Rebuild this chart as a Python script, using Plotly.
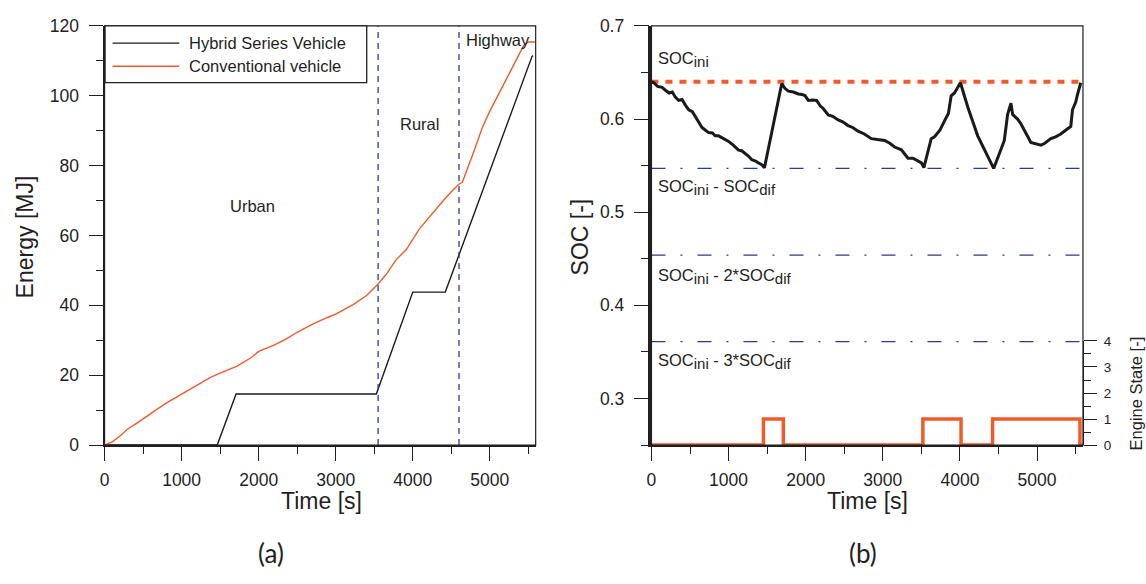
import plotly.graph_objects as go

# ---- data -------------------------------------------------------------
# (a) cumulative energy use over the drive cycle
conv_t = [0, 100, 200, 258, 300, 400, 500, 600, 645, 731, 800, 900, 1000, 1200, 1376, 1500,
          1720, 1900, 2000, 2200, 2365, 2500, 2700, 2900, 3000, 3226, 3400, 3553, 3656, 3785,
          3914, 4086, 4237, 4400, 4516, 4594, 4645, 4710, 4800, 4903, 5000, 5118, 5200, 5290,
          5441, 5500, 5590]
conv_energy = [0, 0.9, 2.6, 3.7, 4.6, 6.0, 7.4, 9.0, 9.7, 11.1, 12.0, 13.3, 14.6, 17.2, 19.4,
               20.6, 22.6, 25.0, 26.8, 28.6, 30.5, 32.3, 34.6, 36.6, 37.5, 40.2, 42.8, 46.2,
               48.9, 53.1, 55.9, 61.9, 66.0, 70.1, 72.9, 74.6, 75.3, 79.4, 84.5, 90.9, 95.6,
               100.6, 104.0, 108.0, 114.5, 115.4, 115.4]
hyb_t = [0, 1462, 1707, 3527, 4000, 4422, 5548, 5560]
hyb_energy = [0, 0, 14.6, 14.6, 43.8, 43.8, 111.3, 111.5]
phase_bounds = [3550, 4600]
phase_names = ["Urban", "Rural", "Highway"]
phase_label_t = [1923, 4086, 5107]
phase_label_e = [68.4, 91.9, 115.9]
series_names = ["Hybrid Series Vehicle", "Conventional vehicle"]

# (b) battery state of charge and engine on/off state
soc_t = [0, 31, 80, 138, 181, 230, 270, 310, 353, 397, 440, 483, 530, 569, 610, 655, 700, 741,
         790, 827, 870, 913, 960, 1000, 1060, 1129, 1170, 1215, 1260, 1301, 1350, 1388, 1430,
         1465,
         1689, 1730, 1775, 1840, 1904, 1950, 1990, 2034, 2090, 2141, 2190, 2227, 2292, 2350,
         2421, 2480, 2549, 2610, 2678, 2760, 2851, 2930, 3024, 3090, 3153, 3240, 3326, 3390,
         3455, 3500, 3532,
         3627, 3670, 3740, 3800, 3850, 3886, 3929, 4006, 4101, 4230, 4437, 4520, 4575, 4618,
         4640, 4661, 4683, 4747, 4790, 4833, 4880, 4919, 4960, 5006, 5049, 5100, 5178, 5240,
         5307, 5370, 5437, 5459, 5500, 5523, 5566]
soc = [0.640, 0.639, 0.635, 0.634, 0.631, 0.628, 0.629, 0.6235, 0.620, 0.621, 0.615, 0.610,
       0.608, 0.603, 0.598, 0.591, 0.588, 0.5855, 0.585, 0.582, 0.582, 0.580, 0.578, 0.576,
       0.572, 0.5666, 0.566, 0.5632, 0.560, 0.5563, 0.555, 0.5528, 0.551, 0.5477,
       0.638, 0.633, 0.630, 0.629, 0.627, 0.6265, 0.6252, 0.620, 0.6205, 0.620, 0.614,
       0.6114, 0.6045, 0.603, 0.599, 0.597, 0.593, 0.591, 0.587, 0.584, 0.579, 0.578, 0.577,
       0.574, 0.570, 0.567, 0.558, 0.558, 0.555, 0.553, 0.548,
       0.579, 0.581, 0.588, 0.598, 0.606, 0.625, 0.628, 0.639, 0.613, 0.582, 0.547, 0.565,
       0.577, 0.605, 0.610, 0.617, 0.605, 0.600, 0.595, 0.589, 0.581, 0.575, 0.574, 0.573,
       0.572, 0.574, 0.579, 0.581, 0.584, 0.588, 0.592, 0.610, 0.618, 0.626, 0.639]
eng_t = [0, 1452, 1710, 3519, 4014, 4423, 5556, 5590]
eng_state = [0, 1, 0, 1, 0, 1, 0, 0]
SOC_INI = 0.64
SOC_DIF = 0.093
T_END = 5590
SUB = "<sub><span style='font-size:15px'>{}</span></sub>"
soc_labels = ["SOC" + SUB.format("ini"),
              "SOC" + SUB.format("ini") + " - SOC" + SUB.format("dif"),
              "SOC" + SUB.format("ini") + " - 2*SOC" + SUB.format("dif"),
              "SOC" + SUB.format("ini") + " - 3*SOC" + SUB.format("dif")]
soc_label_y = [0.664, 0.527, 0.431, 0.340]

# ---- layout helpers ---------------------------------------------------
W, H = 1146, 584
FONT = "Liberation Sans, Arial, sans-serif"
INK = "#231f20"
ORANGE = "#f15a29"
NAVY = "#2b3990"


def fx(p):
    return p / W


def fy(p):
    return 1 - p / H


Y_TOP, Y_BOT = 16.5, 450.5
ENG_TOP = 342.7

fig = go.Figure()

# (a) energy traces
fig.add_trace(go.Scatter(x=hyb_t, y=hyb_energy, mode="lines", name=series_names[0],
                         line=dict(color="#1a1a1a", width=1.4), xaxis="x", yaxis="y",
                         showlegend=False))
fig.add_trace(go.Scatter(x=conv_t, y=conv_energy, mode="lines", name=series_names[1],
                         line=dict(color=ORANGE, width=1.4), xaxis="x", yaxis="y",
                         showlegend=False))

# (b) SOC reference levels
fig.add_trace(go.Scatter(x=[0, T_END], y=[SOC_INI, SOC_INI], mode="lines",
                         line=dict(color=ORANGE, width=4, dash="7px,7px"),
                         xaxis="x2", yaxis="y2", showlegend=False))
for k in (1, 2, 3):
    lvl = SOC_INI - k * SOC_DIF
    fig.add_trace(go.Scatter(x=[0, T_END], y=[lvl, lvl], mode="lines",
                             line=dict(color=NAVY, width=1.3, dash="14px,15px,2px,15px"),
                             xaxis="x2", yaxis="y2", showlegend=False))
fig.add_trace(go.Scatter(x=soc_t, y=soc, mode="lines",
                         line=dict(color="#1a1a1a", width=3), xaxis="x2", yaxis="y2",
                         showlegend=False))
fig.add_trace(go.Scatter(x=eng_t, y=eng_state, mode="lines", line_shape="hv",
                         line=dict(color=ORANGE, width=3.5), xaxis="x2", yaxis="y3",
                         showlegend=False))

tickfont = dict(family=FONT, size=17.5, color=INK)
common_x = dict(range=[0, 5595], tick0=0, dtick=1000, ticks="outside", ticklen=14,
                tickwidth=1.2, tickcolor=INK, showline=True, linecolor=INK, linewidth=2,
                showgrid=False, zeroline=False, tickfont=tickfont, ticklabelstandoff=4,
                minor=dict(dtick=500, ticks="outside", ticklen=7, tickcolor=INK,
                           tickwidth=1.2, showgrid=False))

fig.update_layout(
    width=W, height=H, margin=dict(l=0, r=0, t=0, b=0),
    paper_bgcolor="white", plot_bgcolor="rgba(0,0,0,0)",
    xaxis=dict(domain=[fx(100), fx(533)], anchor="y", **common_x),
    yaxis=dict(domain=[fy(Y_BOT), fy(Y_TOP)], anchor="x", range=[0, 120], tick0=0,
               dtick=20, ticks="outside", ticklen=14, tickwidth=1.2, tickcolor=INK,
               showline=True, linecolor=INK, linewidth=2, showgrid=False, zeroline=False,
               tickfont=tickfont, ticklabelstandoff=6,
               minor=dict(dtick=10, ticks="outside", ticklen=7, tickcolor=INK,
                          tickwidth=1.2, showgrid=False)),
    xaxis2=dict(domain=[fx(649.3), fx(1082.7)], anchor="y2", **common_x),
    yaxis2=dict(domain=[fy(Y_BOT), fy(Y_TOP)], anchor="x2", range=[0.25, 0.7], tick0=0.3,
                dtick=0.1, tickformat=".1f", ticks="outside", ticklen=15, tickwidth=1.2,
                tickcolor=INK, showline=True, linecolor=INK, linewidth=2.5, showgrid=False,
                zeroline=False, tickfont=tickfont, ticklabelstandoff=6,
                minor=dict(dtick=0.05, tick0=0.25, ticks="outside", ticklen=8,
                           tickcolor=INK, tickwidth=1.2, showgrid=False)),
    yaxis3=dict(domain=[fy(Y_BOT), fy(ENG_TOP)], anchor="x2", side="right",
                range=[0, 4], tick0=0, dtick=1, ticks="outside", ticklen=13, tickwidth=1.2,
                tickcolor=INK, showline=True, linecolor=INK, linewidth=1.2, showgrid=False,
                zeroline=False, tickfont=dict(family=FONT, size=13.5, color=INK),
                ticklabelstandoff=4,
                minor=dict(dtick=0.5, ticks="outside", ticklen=7, tickcolor=INK,
                           tickwidth=1.2, showgrid=False)),
)

shapes = [
    # plot frames
    dict(type="rect", xref="x domain", yref="y domain", x0=0, x1=1, y0=0, y1=1,
         line=dict(color=INK, width=1.2), layer="above"),
    dict(type="rect", xref="x2 domain", yref="y2 domain", x0=0, x1=1, y0=0, y1=1,
         line=dict(color=INK, width=1.2), layer="above"),
]
for tb in phase_bounds:
    shapes.append(dict(type="line", xref="x", yref="y domain", x0=tb, x1=tb, y0=0, y1=1,
                       line=dict(color=NAVY, width=1.3, dash="6px,5px")))

# legend box with line samples
shapes.append(dict(type="rect", xref="paper", yref="paper", x0=fx(100.5), x1=fx(363.3),
                   y0=fy(75.3), y1=fy(16.5), line=dict(color=INK, width=1.3),
                   fillcolor="white", layer="above"))
legend_colors = ["#1a1a1a", ORANGE]
legend_rows = [34.3, 58.3]
for col, yy in zip(legend_colors, legend_rows):
    shapes.append(dict(type="line", xref="paper", yref="paper", x0=fx(108), x1=fx(175),
                       y0=fy(yy), y1=fy(yy), line=dict(color=col, width=1.4), layer="above"))
fig.update_layout(shapes=shapes)

ann = []
for name, yy in zip(series_names, legend_rows):
    ann.append(dict(xref="paper", yref="paper", x=fx(183), y=fy(yy), text=name,
                    showarrow=False, xanchor="left", yanchor="middle",
                    font=dict(family=FONT, size=16.5, color=INK)))
for name, tt, ee in zip(phase_names, phase_label_t, phase_label_e):
    ann.append(dict(xref="x", yref="y", x=tt, y=ee, text=name, showarrow=False,
                    xanchor="center", yanchor="middle",
                    font=dict(family=FONT, size=16.5, color=INK)))
for txt, yy in zip(soc_labels, soc_label_y):
    ann.append(dict(xref="x2", yref="y2", x=60, y=yy, text=txt, showarrow=False,
                    xanchor="left", yanchor="middle",
                    font=dict(family=FONT, size=16.5, color=INK)))

title_font = dict(family=FONT, size=23, color=INK)
ann += [
    dict(xref="paper", yref="paper", x=fx(21), y=fy(234.5), text="Energy [MJ]",
         textangle=-90, showarrow=False, xanchor="center", yanchor="middle", font=title_font),
    dict(xref="paper", yref="paper", x=fx(317.5), y=fy(508), text="Time [s]",
         showarrow=False, xanchor="center", yanchor="middle", font=title_font),
    dict(xref="paper", yref="paper", x=fx(577), y=fy(235), text="SOC [-]",
         textangle=-90, showarrow=False, xanchor="center", yanchor="middle", font=title_font),
    dict(xref="paper", yref="paper", x=fx(866), y=fy(508), text="Time [s]",
         showarrow=False, xanchor="center", yanchor="middle", font=title_font),
    dict(xref="paper", yref="paper", x=fx(1136), y=fy(397), text="Engine State [-]",
         textangle=-90, showarrow=False, xanchor="center", yanchor="middle",
         font=dict(family=FONT, size=16.5, color=INK)),
    dict(xref="paper", yref="paper", x=fx(267.5), y=fy(562), text="(a)", showarrow=False,
         xanchor="center", yanchor="middle", font=dict(family="Lato", size=26, color=INK)),
    dict(xref="paper", yref="paper", x=fx(862), y=fy(562), text="(b)", showarrow=False,
         xanchor="center", yanchor="middle", font=dict(family="Lato", size=26, color=INK)),
]
fig.update_layout(annotations=ann)

fig.write_html("out.html")
